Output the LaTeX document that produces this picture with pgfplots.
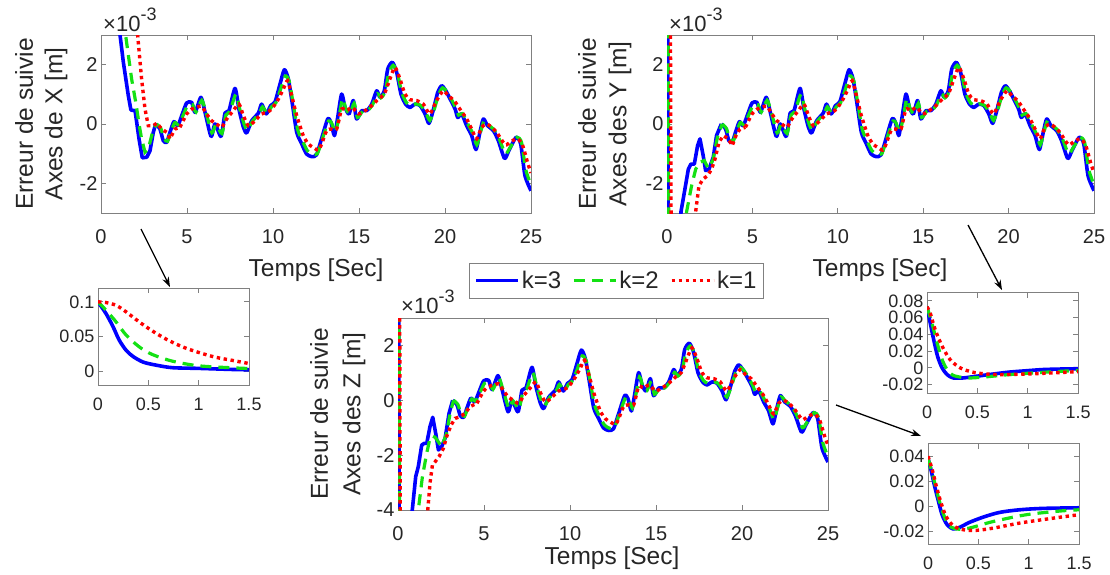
\documentclass[border=0pt]{standalone}
\usepackage{fontspec}
\setmainfont{Liberation Sans}
\usepackage{pgfplots}
\pgfplotsset{compat=1.18}
\usepackage{pgfplotstable}
\usetikzlibrary{arrows.meta}
\definecolor{kblue}{RGB}{0,0,255}
\definecolor{kgreen}{RGB}{20,225,20}
\definecolor{kred}{RGB}{255,0,0}
\definecolor{framegray}{RGB}{128,128,128}
\definecolor{labgray}{RGB}{38,38,38}
\tikzset{
  kb/.style={color=kblue, line width=3.6pt, line join=round, solid},
  kg/.style={color=kgreen, line width=3.2pt, dash pattern=on 11pt off 7pt},
  kr/.style={color=kred, line width=3.4pt, dash pattern=on 3.4pt off 3.6pt},
}
\pgfplotsset{
  base/.style={scale only axis, anchor=south west,
    axis line style={draw=framegray, line width=0.8pt},
    tick style={draw=framegray, line width=0.8pt},
    major tick length=5pt, tick align=inside,
    tick label style={text=labgray},
    /pgf/number format/assume math mode=true,
    scaled ticks=false,
    /pgf/number format/fixed, /pgf/number format/precision=2,
  },
  mainax/.style={base, width=430pt, xmin=0, xmax=25, xtick={0,5,...,25},
    tick label style={font=\fontsize{20}{20}\selectfont},
    xticklabel style={anchor=base, inner sep=1pt, yshift=-30pt}},
  inax/.style={base, width=151pt, height=100pt, xmin=0, xmax=1.5, xtick={0,0.5,1,1.5},
    tick label style={font=\fontsize{18}{18}\selectfont},
    xticklabel style={anchor=base, inner sep=1pt, yshift=-25pt}},
}

% shared steady-state parts (units of 1e-3 m)
\pgfplotstableread{
t v
3.18 0
3.43 -0.17
3.62 -0.56
3.82 -0.62
4.01 -0.28
4.24 0.08
4.46 -0.06
4.73 0.34
4.98 0.71
5.27 0.73
5.47 0.39
5.81 0.9
6.05 0.39
6.40 -0.42
6.63 0
6.98 -0.42
7.21 0.37
7.44 0.45
7.79 1.2
8.02 0.5
8.28 -0.11
8.47 -0.3
8.76 0.11
9.15 0.37
9.34 0.67
9.61 0.34
9.86 0.62
10.12 0.75
10.41 1.35
10.66 1.83
10.89 1.52
11.12 0.7
11.38 -0.28
11.67 -0.67
11.95 -1.01
12.25 -1.10
12.53 -1.04
12.82 -0.5
13.18 0.17
13.37 0.06
13.57 -0.39
13.76 0.22
13.99 1.01
14.19 0.56
14.42 0.34
14.67 0.79
14.86 0.17
15.16 0.45
15.45 0.45
15.74 0.67
16.03 1.12
16.22 0.9
16.47 1.12
16.67 1.85
16.94 2.08
17.19 1.74
17.44 1.01
17.71 0.67
17.96 0.56
18.26 0.67
18.55 0.62
18.84 0.34
19.07 0.02
19.33 0.5
19.58 1.07
19.81 1.29
20.05 1.12
20.30 0.84
20.59 0.5
20.74 0.22
20.97 0.34
21.26 -0.06
21.55 -0.39
21.80 -0.86
22.03 -0.28
22.23 0.17
22.48 -0.06
22.81 -0.22
23.10 -0.56
23.46 -1.16
23.71 -0.9
24.13 -0.45
24.40 -0.67
24.65 -1.74
25.00 -2.25
}\blueS

\pgfplotstableread{
t v
3.23 0
3.48 -0.15
3.67 -0.5
3.87 -0.58
4.06 -0.28
4.29 0.05
4.51 -0.03
4.78 0.3
5.03 0.62
5.32 0.65
5.52 0.4
5.86 0.8
6.10 0.4
6.45 -0.3
6.68 -0.02
7.03 -0.32
7.26 0.3
7.49 0.42
7.84 1.0
8.07 0.5
8.33 -0.02
8.52 -0.2
8.81 0.1
9.20 0.35
9.39 0.58
9.66 0.35
9.91 0.58
10.17 0.72
10.46 1.2
10.71 1.62
10.94 1.45
11.17 0.7
11.43 -0.18
11.72 -0.58
12.00 -0.9
12.30 -1.02
12.58 -1.0
12.87 -0.5
13.23 0.1
13.42 0.02
13.62 -0.28
13.81 0.15
14.04 0.85
14.24 0.5
14.47 0.35
14.72 0.7
14.91 0.22
15.21 0.43
15.50 0.45
15.79 0.65
16.08 1.02
16.27 0.88
16.52 1.08
16.72 1.7
16.99 1.98
17.24 1.7
17.49 1.05
17.76 0.72
18.01 0.62
18.31 0.68
18.60 0.62
18.89 0.38
19.12 0.12
19.38 0.5
19.63 1.0
19.86 1.22
20.10 1.1
20.35 0.86
20.64 0.52
20.79 0.3
21.02 0.35
21.31 0.02
21.60 -0.3
21.85 -0.7
22.08 -0.25
22.28 0.12
22.53 -0.03
22.86 -0.2
23.15 -0.5
23.51 -1.0
23.76 -0.82
24.18 -0.45
24.45 -0.62
24.70 -1.55
25.00 -2.05
}\greenS

\pgfplotstableread{
t v
4.59 -0.11
4.98 0.34
5.27 0.5
5.56 0.56
5.85 0.6
6.14 0.34
6.43 0.11
6.72 0
7.02 -0.11
7.31 0.17
7.69 0.45
8.02 0.67
8.28 0.28
8.57 -0.06
8.95 0.11
9.34 0.34
9.63 0.39
9.92 0.5
10.31 0.84
10.60 1.18
10.85 1.46
11.09 0.95
11.38 0.28
11.76 -0.39
12.05 -0.67
12.34 -0.79
12.64 -0.88
12.83 -0.67
13.12 -0.22
13.41 -0.17
13.70 -0.17
13.99 0.5
14.28 0.45
14.61 0.56
14.97 0.34
15.35 0.45
15.74 0.62
16.12 0.84
16.47 1.01
16.80 1.52
17.09 1.91
17.38 1.52
17.67 1.01
17.96 0.82
18.35 0.79
18.74 0.67
19.12 0.34
19.51 0.79
19.90 1.12
20.19 0.95
20.53 0.79
20.87 0.5
21.26 0.17
21.55 -0.17
21.84 -0.5
22.13 -0.11
22.42 0
22.71 -0.11
23.00 -0.28
23.50 -0.7
23.80 -0.6
24.20 -0.5
24.50 -0.7
24.80 -1.3
25.00 -1.65
}\redS

\begin{document}
\begin{tikzpicture}
\path[use as bounding box] (0pt,0pt) rectangle (1110pt,-574pt);

% ---------------- X main ----------------
\begin{axis}[mainax, at={(101pt,-213pt)}, height=178pt, ymin=-3, ymax=3, ytick={-2,0,2}]
\addplot[kb, forget plot] coordinates {(0,100) (0.8,12) (1.0,5) (1.10,3.03) (1.30,2.08) (1.59,0.95) (1.74,0.47) (1.98,0.45) (2.21,-0.5) (2.40,-1.14) (2.66,-1.12) (2.85,-0.9) (3.04,-0.28) (3.18,0)};
\addplot[kb, smooth, tension=0.4, forget plot] table[x=t,y=v] {\blueS};
\addplot[kg, forget plot] coordinates {(0,100) (1.0,10) (1.30,4.5) (1.43,3.0) (1.78,1.52) (2.02,0.73) (2.23,-0.06) (2.36,-0.5) (2.56,-0.95) (2.75,-0.84) (3.04,-0.17) (3.23,0)};
\addplot[kg, smooth, tension=0.4, forget plot] table[x=t,y=v] {\greenS};
\addplot[kr, forget plot] coordinates {(0,100) (1.5,11) (2.0,4.5) (2.13,3.0) (2.36,1.52) (2.56,0.5) (2.75,-0.06) (3.04,-0.06) (3.24,0.03) (3.53,-0.17) (3.82,-0.28) (4.01,-0.5) (4.30,-0.17) (4.59,-0.11)};
\addplot[kr, smooth, tension=0.4, forget plot] table[x=t,y=v] {\redS};
\end{axis}

% ---------------- Y main ----------------
\begin{axis}[mainax, at={(667pt,-213pt)}, width=427pt, height=178pt, ymin=-3, ymax=3, ytick={-2,0,2}]
\addplot[kb, forget plot] coordinates {(0,70) (0.04,3.5) (0.07,-3.5) (0.3,-12) (0.6,-6) (0.82,-2.95) (1.05,-2.19) (1.25,-1.52) (1.4,-1.35) (1.6,-1.35) (1.79,-0.73) (1.93,-0.5) (2.12,-1.07) (2.26,-1.57) (2.46,-1.52) (2.71,-1.12) (2.9,-0.39) (3.18,0)};
\addplot[kb, smooth, tension=0.4, forget plot] table[x=t,y=v] {\blueS};
\addplot[kg, forget plot] coordinates {(0,70) (0.07,3.5) (0.1,-3.5) (0.3,-12) (0.8,-6) (1.15,-2.95) (1.44,-2.08) (1.68,-1.52) (1.93,-1.29) (2.18,-1.23) (2.42,-1.5) (2.7,-1.2) (2.95,-0.45) (3.23,0)};
\addplot[kg, smooth, tension=0.4, forget plot] table[x=t,y=v] {\greenS};
\addplot[kr, forget plot] coordinates {(0,70) (0.2,3.5) (0.24,-3.5) (0.45,-12) (1.2,-6) (1.68,-2.95) (1.87,-2.08) (2.12,-1.85) (2.38,-1.74) (2.61,-1.52) (2.81,-1.18) (3.04,-0.62) (3.29,-0.39) (3.59,-0.5) (3.82,-0.73) (4.07,-0.34) (4.27,-0.17) (4.59,-0.11)};
\addplot[kr, smooth, tension=0.4, forget plot] table[x=t,y=v] {\redS};
\end{axis}

% ---------------- Z main ----------------
\begin{axis}[mainax, at={(398pt,-510pt)}, height=192pt, ymin=-4, ymax=3, ytick={-4,-2,0,2},
  legend columns=3,
  legend image code/.code={\draw[#1] (0pt,0pt) -- (42pt,0pt);},
  legend style={at={(0.508,1.195)}, anchor=center, draw=framegray, line width=0.8pt, fill=white,
    font=\fontsize{24}{24}\selectfont, text=labgray, inner xsep=5pt, inner ysep=6pt,
    /tikz/every even column/.append style={column sep=9pt}}]
\addplot[kb, forget plot] coordinates {(0,40) (0.04,3.5) (0.07,-4.5) (0.25,-18) (0.6,-8) (0.83,-4.0) (1.03,-2.78) (1.18,-2.42) (1.38,-1.63) (1.53,-1.57) (1.67,-1.57) (1.86,-0.96) (2.02,-0.62) (2.19,-1.2) (2.35,-1.81) (2.54,-1.69) (2.74,-1.38) (2.97,-0.47) (3.18,0)};
\addplot[kb, smooth, tension=0.4, forget plot] table[x=t,y=v] {\blueS};
\addplot[kg, forget plot] coordinates {(0,40) (0.06,3.5) (0.09,-4.5) (0.28,-18) (0.8,-8) (1.18,-4) (1.42,-2.78) (1.67,-1.93) (1.86,-1.38) (2.0,-1.3) (2.16,-1.35) (2.54,-1.69) (2.83,-1.2) (3.03,-0.47) (3.23,0)};
\addplot[kg, smooth, tension=0.4, forget plot] table[x=t,y=v] {\greenS};
\addplot[kr, forget plot] coordinates {(0,40) (0.1,3.5) (0.13,-4.5) (0.35,-19) (1.2,-9) (1.73,-4) (1.86,-3.03) (2.0,-2.36) (2.16,-2.24) (2.39,-2.05) (2.64,-1.75) (2.83,-1.32) (3.09,-0.9) (3.32,-0.66) (3.61,-0.6) (3.9,-0.47) (4.19,-0.23) (4.59,-0.11)};
\addplot[kr, smooth, tension=0.4, forget plot] table[x=t,y=v] {\redS};
\addlegendimage{kb}\addlegendentry{k=3}
\addlegendimage{kg}\addlegendentry{k=2}
\addlegendimage{kr}\addlegendentry{k=1}
\end{axis}

% ---------------- insets ----------------
\begin{axis}[inax, at={(98pt,-385pt)}, height=97pt, ymin=-0.02, ymax=0.12, ytick={0,0.05,0.1}]
\addplot[kb, smooth, tension=0.5] coordinates {(0,0.1) (0.08,0.083) (0.15,0.064) (0.21,0.045) (0.28,0.03) (0.35,0.021) (0.45,0.013) (0.58,0.0086) (0.74,0.005) (1.0,0.004) (1.34,0.0024) (1.5,0.002)};
\addplot[kg, smooth, tension=0.5] coordinates {(0,0.1) (0.08,0.088) (0.18,0.071) (0.28,0.052) (0.41,0.035) (0.54,0.024) (0.74,0.0144) (1.0,0.0077) (1.34,0.0048) (1.5,0.0038)};
\addplot[kr, smooth, tension=0.5] coordinates {(0,0.1) (0.08,0.099) (0.18,0.095) (0.28,0.0855) (0.41,0.071) (0.54,0.058) (0.68,0.046) (0.84,0.035) (1.0,0.027) (1.17,0.020) (1.34,0.0154) (1.5,0.011)};
\end{axis}

\begin{axis}[inax, at={(927pt,-393pt)}, height=100.5pt, ymin=-0.03, ymax=0.09, ytick={-0.02,0,0.02,0.04,0.06,0.08}]
\addplot[kb, smooth, tension=0.5] coordinates {(0,0.073) (0.033,0.053) (0.066,0.034) (0.105,0.0138) (0.15,0) (0.2,-0.008) (0.26,-0.012) (0.36,-0.012) (0.49,-0.010) (0.66,-0.0073) (0.82,-0.005) (0.99,-0.0034) (1.15,-0.002) (1.32,-0.0014) (1.5,-0.001)};
\addplot[kg, smooth, tension=0.5] coordinates {(0,0.073) (0.05,0.053) (0.1,0.03) (0.15,0.01) (0.2,-0.002) (0.26,-0.009) (0.4,-0.012) (0.56,-0.011) (0.82,-0.008) (1.15,-0.0053) (1.5,-0.003)};
\addplot[kr, smooth, tension=0.5] coordinates {(0,0.073) (0.033,0.065) (0.08,0.046) (0.15,0.026) (0.23,0.0098) (0.33,0) (0.45,-0.005) (0.56,-0.007) (0.73,-0.008) (0.99,-0.0073) (1.25,-0.006) (1.5,-0.0045)};
\end{axis}

\begin{axis}[inax, at={(928pt,-544pt)}, height=100.3pt, ymin=-0.03, ymax=0.05, ytick={-0.02,0,0.02,0.04}]
\addplot[kb, smooth, tension=0.5] coordinates {(0,0.0385) (0.033,0.028) (0.066,0.016) (0.1,0.0053) (0.14,-0.0066) (0.19,-0.0146) (0.25,-0.018) (0.32,-0.0165) (0.41,-0.0128) (0.55,-0.0085) (0.71,-0.0048) (0.91,-0.0027) (1.14,-0.0016) (1.5,-0.0011)};
\addplot[kg, smooth, tension=0.5] coordinates {(0,0.0385) (0.05,0.024) (0.1,0.008) (0.15,-0.0053) (0.2,-0.0146) (0.28,-0.018) (0.41,-0.0173) (0.65,-0.012) (0.98,-0.0066) (1.31,-0.0037) (1.5,-0.0027)};
\addplot[kr, smooth, tension=0.5] coordinates {(0,0.04) (0.043,0.029) (0.083,0.016) (0.13,0.0027) (0.18,-0.008) (0.25,-0.0154) (0.35,-0.0186) (0.48,-0.0191) (0.65,-0.0173) (0.91,-0.0133) (1.18,-0.0101) (1.5,-0.0066)};
\end{axis}

% ---------------- labels ----------------
\begin{scope}[every node/.style={text=labgray}]
\node[font=\fontsize{24.5}{24.5}\selectfont, anchor=base, inner sep=0pt] at (316pt,-276pt) {Temps [Sec]};
\node[font=\fontsize{24.5}{24.5}\selectfont, anchor=base, inner sep=0pt] at (880pt,-276pt) {Temps [Sec]};
\node[font=\fontsize{24.5}{24.5}\selectfont, anchor=base, inner sep=0pt] at (612pt,-564.5pt) {Temps [Sec]};
\node[font=\fontsize{24.5}{24.5}\selectfont, rotate=90] at (24pt,-124pt) {Erreur de suivie};
\node[font=\fontsize{24.5}{24.5}\selectfont, rotate=90] at (56pt,-124pt) {Axes de X [m]};
\node[font=\fontsize{24.5}{24.5}\selectfont, rotate=90] at (587pt,-124pt) {Erreur de suivie};
\node[font=\fontsize{24.5}{24.5}\selectfont, rotate=90] at (620pt,-124pt) {Axes des Y [m]};
\node[font=\fontsize{24.5}{24.5}\selectfont, rotate=90] at (319pt,-414pt) {Erreur de suivie};
\node[font=\fontsize{24.5}{24.5}\selectfont, rotate=90] at (354pt,-414pt) {Axes des Z [m]};
\node[font=\fontsize{22}{22}\selectfont, anchor=base west, inner sep=0pt] at (103pt,-31pt) {×10\raisebox{0.5em}{\fontsize{18}{18}\selectfont -3}};
\node[font=\fontsize{22}{22}\selectfont, anchor=base west, inner sep=0pt] at (669pt,-31pt) {×10\raisebox{0.5em}{\fontsize{18}{18}\selectfont -3}};
\node[font=\fontsize{22}{22}\selectfont, anchor=base west, inner sep=0pt] at (401pt,-313pt) {×10\raisebox{0.5em}{\fontsize{18}{18}\selectfont -3}};
\end{scope}

% ---------------- arrows ----------------
\draw[-{Stealth[length=10pt,width=7pt]}, line width=1.3pt] (141pt,-229pt) -- (170pt,-287pt);
\draw[-{Stealth[length=10pt,width=7pt]}, line width=1.3pt] (968pt,-225pt) -- (1002pt,-290pt);
\draw[-{Stealth[length=10pt,width=7pt]}, line width=1.3pt] (836pt,-405pt) -- (921pt,-436pt);
\end{tikzpicture}
\end{document}
